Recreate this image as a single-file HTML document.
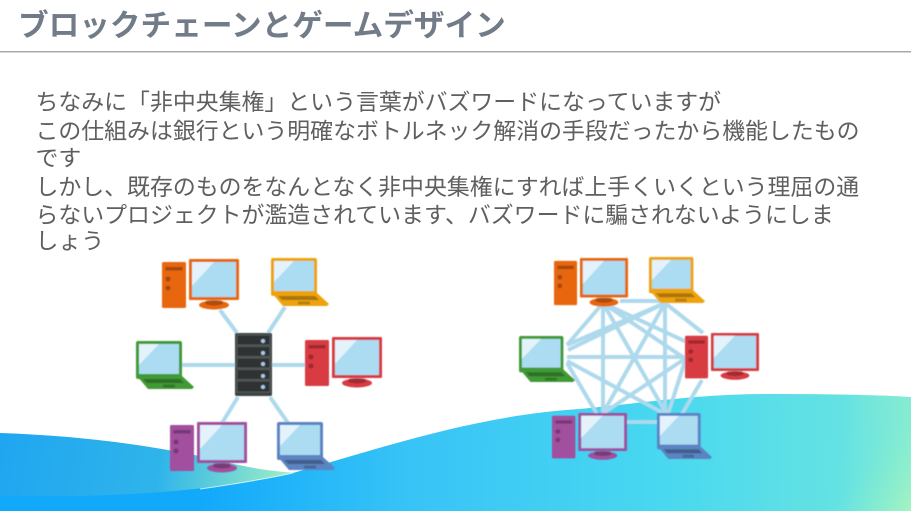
<!DOCTYPE html>
<html lang="ja"><head><meta charset="utf-8">
<style>
html,body{margin:0;padding:0;background:#fff}
#p{position:relative;width:911px;height:511px;overflow:hidden;background:#fff;font-family:"Liberation Sans","Noto Sans CJK JP",sans-serif}
svg{position:absolute;left:0;top:0}
.t{position:absolute;left:18px;top:4px;font-size:30.65px;line-height:44px;font-weight:700;color:#727c88;white-space:nowrap}
.b{position:absolute;left:35.500px;font-size:22.9px;line-height:28px;color:#5f5f5f;white-space:nowrap;font-weight:400}
</style></head><body><div id="p">
<svg width="911" height="511" viewBox="0 0 911 511" xmlns="http://www.w3.org/2000/svg">
<defs>
<linearGradient id="w1" gradientUnits="userSpaceOnUse" x1="0" y1="440" x2="290" y2="490">
<stop offset="0" stop-color="#1fa6f0"/><stop offset=".55" stop-color="#2fb4ea"/><stop offset="1" stop-color="#a0f0c4"/></linearGradient>
<linearGradient id="w2" gradientUnits="userSpaceOnUse" x1="200" y1="500" x2="911" y2="511">
<stop offset="0" stop-color="#12a9fb"/><stop offset=".3" stop-color="#38c4f6"/><stop offset=".65" stop-color="#48d8f0"/><stop offset=".9" stop-color="#66e2e2"/><stop offset="1" stop-color="#9cf2c6"/></linearGradient>
<linearGradient id="w3" gradientUnits="userSpaceOnUse" x1="760" y1="420" x2="911" y2="511">
<stop offset="0" stop-color="#52dcea" stop-opacity="0"/><stop offset=".6" stop-color="#60e2e4" stop-opacity=".35"/><stop offset="1" stop-color="#a4f4c0"/></linearGradient>
<filter id="bl" x="-5%" y="-5%" width="110%" height="110%"><feGaussianBlur stdDeviation=".45"/></filter>
<symbol id="pc" viewBox="0 0 77 54" width="77" height="54" overflow="visible" preserveAspectRatio="none">
<rect x="0" y="3" width="24" height="46" rx="1.500" fill="currentColor"/>
<rect x="3.500" y="8" width="17" height="3.500" fill="#000" opacity=".28"/>
<circle cx="6" cy="20" r="2.500" fill="#000" opacity=".28"/><circle cx="6" cy="29" r="2.500" fill="#000" opacity=".28"/>
<ellipse cx="52" cy="46" rx="15" ry="4.500" fill="currentColor"/>
<path d="M45 39h14l2 6q-9 3-18 0z" fill="#000" opacity=".25"/>
<rect x="27" y="0" width="50" height="41" rx="1" fill="currentColor"/>
<rect x="30" y="3" width="44" height="35" fill="#acdcf2"/>
<path d="M30 3h22L30 27z" fill="#e4f3fb"/>
</symbol>
<symbol id="lt" viewBox="0 0 58 48" width="58" height="48" overflow="visible" preserveAspectRatio="none">
<path d="M1 35L46 35L58 46L56 48L12 48z" fill="currentColor"/>
<rect x="0" y="0" width="46" height="38" rx="2" fill="currentColor"/>
<rect x="3" y="3" width="40" height="30" fill="#acdcf2"/>
<path d="M3 3h20L3 24z" fill="#e4f3fb"/>
<path d="M7 38h37l4 4H11z" fill="#000" opacity=".28"/>
<rect x="27" y="43.500" width="12" height="3" fill="#000" opacity=".22"/>
</symbol>
</defs>

<rect x="0" y="51" width="911" height="1.500" fill="#a9a9a9"/>

<path d="M0 433C90 436 170 448 230 463C260 470 280 472 300 473L300 511L0 511Z" fill="url(#w1)"/>
<path d="M0 496C110 498 210 492 293 473C390 445 480 415 580 409C650 402 700 394 770 394C830 394 880 395 911 397L911 511L0 511Z" fill="url(#w2)"/>
<path d="M0 496C110 498 210 492 293 473C390 445 480 415 580 409C650 402 700 394 770 394C830 394 880 395 911 397L911 511L0 511Z" fill="url(#w3)"/>
<path d="M200 489C235 484 265 479 293 473" fill="none" stroke="#eafcf6" stroke-width="1" opacity=".8"/>

<g filter="url(#bl)">
<g stroke="#aed9ec" stroke-width="4" fill="none">
<path d="M220 310L237 333M285 307L268 333M180 365H236M272 365H306M238 397L222 423M270 397L288 423"/>
<path d="M620 301H660M603 303V415M603 303L667 415M603 303L567 345M603 303L690 362M603 303L693 345
M665 303L567 345M665 303L602 415M665 303V415M665 303L703 333M665 303L568 350
M567 357H686M567 363L597 414M567 361L665 414
M686 358L602 414M686 358L668 414M702 380L682 414M626 422H660"/>
</g>

<use href="#pc" x="162" y="259" color="#e8660c"/>
<use href="#lt" x="271" y="258" color="#eea30d"/>
<use href="#lt" x="136" y="341" color="#3f9a35"/>
<use href="#pc" x="305" y="337" color="#d83a42"/>
<use href="#pc" x="170" y="422" color="#a14f9e"/>
<use href="#lt" x="277" y="422" color="#5b84c2"/>

<rect x="235" y="333" width="37" height="63" rx="1.500" fill="#3e4243"/>
<g fill="#2e3233" stroke="#6d7273" stroke-width=".6">
<rect x="237" y="335" width="33" height="10"/><rect x="237" y="346.500" width="33" height="10"/><rect x="237" y="358" width="33" height="10"/><rect x="237" y="369.500" width="33" height="10"/><rect x="237" y="381" width="33" height="11"/>
</g>
<g fill="#a9c9e6"><circle cx="263" cy="341" r="2"/><circle cx="263" cy="353" r="2"/><circle cx="263" cy="364" r="2"/><circle cx="263" cy="376" r="2"/><circle cx="263" cy="387" r="2"/></g>

<use href="#pc" x="554" y="258" width="74" height="52" color="#e8660c"/>
<use href="#lt" x="649" y="257" width="56" height="46" color="#eea30d"/>
<use href="#lt" x="519" y="336" width="56" height="46" color="#3f9a35"/>
<use href="#pc" x="685" y="333" width="74" height="50" color="#d83a42"/>
<use href="#pc" x="552" y="413" width="75" height="50" color="#a14f9e"/>
<use href="#lt" x="657" y="413" width="55" height="46" color="#5b84c2"/>
</g>
</svg>
<div class="t">ブロックチェーンとゲームデザイン</div>
<div class="b" style="top:88px">ちなみに「非中央集権」という言葉がバズワードになっていますが</div>
<div class="b" style="top:117px">この仕組みは銀行という明確なボトルネック解消の手段だったから機能したもの</div>
<div class="b" style="top:144px">です</div>
<div class="b" style="top:173px">しかし、既存のものをなんとなく非中央集権にすれば上手くいくという理屈の通</div>
<div class="b" style="top:201px">らないプロジェクトが濫造されています、バズワードに騙されないようにしま</div>
<div class="b" style="top:227px">しょう</div>
</div></body></html>
